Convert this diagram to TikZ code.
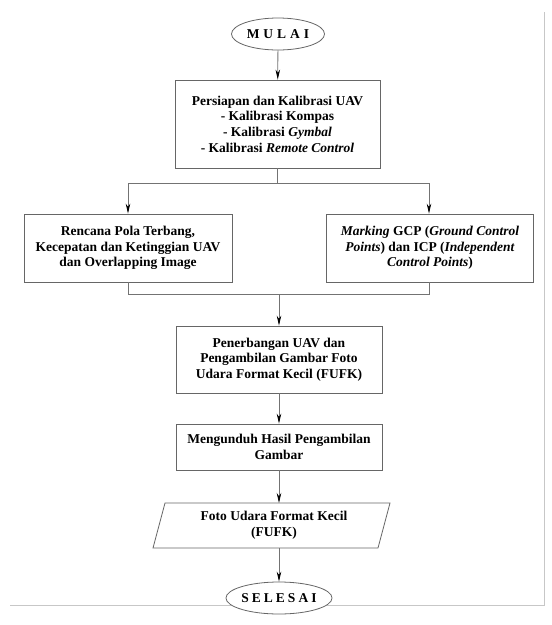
\documentclass[tikz,border=0pt]{standalone}
\usepackage{fontspec}
\setmainfont{Liberation Serif}
\usetikzlibrary{arrows.meta,shapes.geometric}
\begin{document}
\begin{tikzpicture}[x=1pt,y=-1pt,
  box/.style={draw=black!60,line width=0.8pt,fill=white,align=center,inner sep=0pt,
    font=\fontsize{13.5}{15.7}\selectfont\bfseries},
  term/.style={draw=black!60,line width=0.8pt,ellipse,fill=white,inner sep=0pt,
    font=\fontsize{13.5}{15.7}\selectfont\bfseries},
  conn/.style={draw=black!55,line width=0.8pt},
  arr/.style={conn,-{Stealth[length=10pt,width=4.5pt,color=black]}},
  frame/.style={draw=black!22,line width=0.8pt}]
\useasboundingbox (0,0) rectangle (552,625);
% light frame
\coordinate (f1) at (544,12);
\coordinate (f2) at (544,605);
\coordinate (f3) at (10,605);
\draw[frame] (f1) -- (f2) -- (f3);
% nodes
\node[term,minimum width=93pt,minimum height=32pt] (start) at (278,34) {M\hspace{4pt}U\hspace{4pt}L\hspace{4pt}A\hspace{4pt}I};
\node[box,minimum width=205pt,minimum height=88pt] (b1) at (277.5,124) {Persiapan dan Kalibrasi UAV\\ - Kalibrasi Kompas\\ - Kalibrasi \textit{Gymbal}\\ - Kalibrasi \textit{Remote Control}};
\node[box,minimum width=208pt,minimum height=68pt] (bl) at (128,248) {Rencana Pola Terbang,\\ Kecepatan dan Ketinggian UAV\\ dan Overlapping Image};
\node[box,minimum width=207pt,minimum height=68pt] (br) at (430,248) {\textit{Marking} GCP (\textit{Ground Control}\\ \textit{Points}) dan ICP (\textit{Independent}\\ \textit{Control Points})};
\node[box,minimum width=206pt,minimum height=67pt] (b3) at (279,359.5) {Penerbangan UAV dan\\ Pengambilan Gambar Foto\\ Udara Format Kecil (FUFK)};
\node[box,minimum width=206pt,minimum height=46pt] (b4) at (279,447) {Mengunduh Hasil Pengambilan\\ Gambar};
% parallelogram
\coordinate (p1) at (165,503);
\coordinate (p2) at (390,503);
\coordinate (p3) at (378,548);
\coordinate (p4) at (153,548);
\draw[draw=black!60,line width=0.8pt,fill=white] (p1) -- (p2) -- (p3) -- (p4) -- cycle;
\node[box,draw=none,fill=none] (pa) at (274,525.5) {Foto Udara Format Kecil\\ (FUFK)};
\coordinate (pt) at (279,503);
\coordinate (pb) at (279,548);
\node[term,minimum width=95pt,minimum height=32pt] (end) at (279,598) {S\hspace{3pt}E\hspace{3pt}L\hspace{3pt}E\hspace{3pt}S\hspace{3pt}A\hspace{3pt}I};
% connectors
\draw[arr] (start) -- (b1);
\coordinate (s) at (277.5,183);
\coordinate (sl) at (128,183);
\coordinate (sr) at (429,183);
\draw[conn] (b1) -- (s);
\draw[conn] (sl) -- (sr);
\draw[arr] (sl) -- (bl);
\draw[arr] (sr) -- (sr |- br.north);
\coordinate (ml) at (128,294);
\coordinate (mr) at (429,294);
\coordinate (mc) at (279,294);
\draw[conn] (bl) -- (ml) -- (mr) -- (mr |- br.south);
\draw[arr] (mc) -- (b3);
\draw[arr] (b3) -- (b4);
\draw[arr] (b4) -- (pt);
\draw[arr] (pb) -- (end);
\end{tikzpicture}
\end{document}
